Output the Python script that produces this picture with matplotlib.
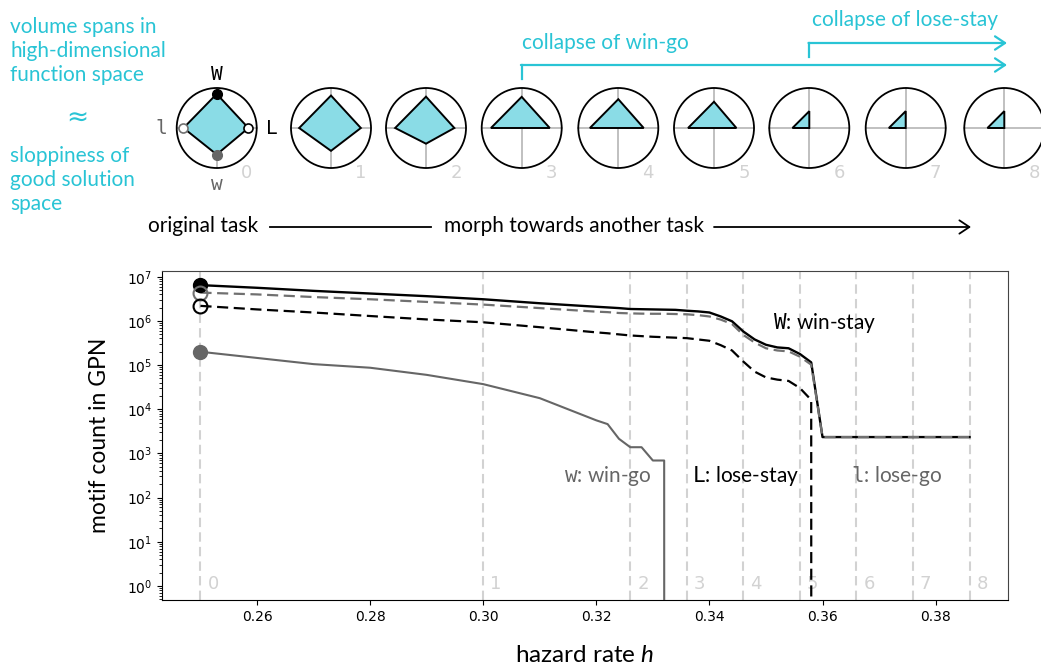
import numpy as np
import matplotlib
matplotlib.use('Agg')
import matplotlib.pyplot as plt
from matplotlib.patches import Circle, Polygon

# ---------------- data ----------------
h = [0.25, 0.26, 0.27, 0.28, 0.29, 0.30, 0.31, 0.32,
     0.322, 0.324, 0.326, 0.328, 0.330, 0.332, 0.334, 0.336, 0.338, 0.340,
     0.342, 0.344, 0.346, 0.348, 0.350, 0.352, 0.354, 0.356, 0.358, 0.360,
     0.362, 0.364, 0.366, 0.368, 0.370, 0.372, 0.374, 0.376, 0.378, 0.380,
     0.382, 0.384, 0.386]

# W: win-stay
win_stay = [6.46e6, 5.62e6, 4.79e6, 4.17e6, 3.63e6, 3.09e6, 2.51e6, 2.09e6,
            2.02e6, 1.95e6, 1.86e6, 1.84e6, 1.82e6, 1.80e6, 1.78e6, 1.70e6, 1.64e6, 1.55e6,
            1.26e6, 9.8e5, 5.75e5, 3.8e5, 2.88e5, 2.51e5, 2.4e5, 1.78e5, 1.15e5, 2.34e3,
            2.34e3, 2.34e3, 2.34e3, 2.34e3, 2.34e3, 2.34e3, 2.34e3, 2.34e3, 2.34e3, 2.34e3,
            2.34e3, 2.34e3, 2.34e3]
# l: lose-go
lose_go = [4.37e6, 3.98e6, 3.47e6, 3.09e6, 2.69e6, 2.34e6, 1.95e6, 1.62e6,
           1.58e6, 1.51e6, 1.48e6, 1.46e6, 1.45e6, 1.45e6, 1.43e6, 1.41e6, 1.35e6, 1.26e6,
           1.07e6, 8.5e5, 4.8e5, 3.24e5, 2.4e5, 2.14e5, 2.04e5, 1.55e5, 1.02e5, 2.34e3,
           2.34e3, 2.34e3, 2.34e3, 2.34e3, 2.34e3, 2.34e3, 2.34e3, 2.34e3, 2.34e3, 2.34e3,
           2.34e3, 2.34e3, 2.34e3]
# L: lose-stay
lose_stay = [2.19e6, 1.82e6, 1.55e6, 1.29e6, 1.08e6, 9.3e5, 7.2e5, 5.5e5,
             5.25e5, 4.95e5, 4.68e5, 4.52e5, 4.37e5, 4.27e5, 4.17e5, 4.07e5, 3.8e5, 3.55e5,
             2.82e5, 2.14e5, 1.2e5, 7.1e4, 5.25e4, 4.68e4, 4.37e4, 3.02e4, 1.62e4, 0,
             0, 0, 0, 0, 0, 0, 0, 0, 0, 0,
             0, 0, 0]
# w: win-go
win_go = [2.0e5, 1.45e5, 1.05e5, 8.7e4, 6.0e4, 3.7e4, 1.78e4, 5.6e3,
          4.6e3, 2.14e3, 1.38e3, 1.38e3, 6.9e2, 6.9e2, 0, 0, 0, 0,
          0, 0, 0, 0, 0, 0, 0, 0, 0, 0,
          0, 0, 0, 0, 0, 0, 0, 0, 0, 0,
          0, 0, 0]

stage_h = [0.25, 0.30, 0.326, 0.336, 0.346, 0.356, 0.366, 0.376, 0.386]
stage_labels = ['0', '1', '2', '3', '4', '5', '6', '7', '8']
x_ticks = [0.26, 0.28, 0.30, 0.32, 0.34, 0.36, 0.38]

# ---------------- style ----------------
CYAN = '#29c4d5'
FILL = '#8adce6'
GREY = '#666666'
LIGHT = '#d2d2d2'
SANS = ['Lato', 'DejaVu Sans']
plt.rcParams['mathtext.fontset'] = 'custom'
plt.rcParams['mathtext.it'] = 'Lato:italic'
plt.rcParams['mathtext.rm'] = 'Lato'
plt.rcParams['mathtext.tt'] = 'DejaVu Sans Mono'

W_PX, H_PX = 1041, 671
fig = plt.figure(figsize=(W_PX / 100, H_PX / 100), dpi=100)

# ---------------- main axes ----------------
ax = fig.add_axes([162 / W_PX, 1 - 600 / H_PX, (1008 - 162) / W_PX, (600 - 271) / H_PX])
ax.set_yscale('log', nonpositive='clip')

for sh, lab in zip(stage_h, stage_labels):
    ax.axvline(sh, color=LIGHT, lw=1.5, ls=(0, (4.5, 2.5)), zorder=1)
    ax.annotate(lab, xy=(sh, 0.05), xycoords=('data', 'axes fraction'),
                xytext=(5, 0), textcoords='offset points', ha='left', va='center',
                color=LIGHT, fontsize=13)

ax.plot(h, win_go, color=GREY, lw=1.5, zorder=3)
ax.plot(h, lose_stay, color='black', lw=1.6, ls=(0, (5, 2.5)), zorder=4)
ax.plot(h, win_stay, color='black', lw=1.7, zorder=5)
ax.plot(h, lose_go, color='#707070', lw=1.6, ls=(0, (5, 2.5)), zorder=6)

ms = 10
ax.plot(h[0], win_stay[0], 'o', color='black', ms=ms, zorder=7)
ax.plot(h[0], lose_go[0], 'o', mfc='none', mec='#707070', mew=1.5, ms=ms, zorder=7)
ax.plot(h[0], lose_stay[0], 'o', mfc='none', mec='black', mew=1.5, ms=ms, zorder=7)
ax.plot(h[0], win_go[0], 'o', color=GREY, ms=ms, zorder=7)

ax.set_ylim(10 ** -0.32, 10 ** 7.13)
ax.set_xticks(x_ticks)
ax.set_xticklabels([f'{t:.2f}' for t in x_ticks])
ax.tick_params(labelsize=10)
for s in ['top', 'right']:
    ax.spines[s].set_color('#444444')

ax.set_ylabel('motif count in GPN', fontsize=16.5, family=SANS, labelpad=12)
ax.set_xlabel('hazard rate $h$', fontsize=17.5, family=SANS, labelpad=15)

lab_fs = 15
ax.text(0.3512, 10 ** 5.95, r'$\mathtt{W}$: win-stay', fontsize=lab_fs, family=SANS,
        color='black', va='center', ha='left')
ax.text(0.3142, 10 ** 2.49, r'$\mathtt{w}$: win-go', fontsize=lab_fs, family=SANS,
        color=GREY, va='center', ha='left')
ax.text(0.3370, 10 ** 2.49, r'$\mathtt{L}$: lose-stay', fontsize=lab_fs, family=SANS,
        color='black', va='center', ha='left')
ax.text(0.3650, 10 ** 2.49, r'$\mathtt{l}$: lose-go', fontsize=lab_fs, family=SANS,
        color=GREY, va='center', ha='left')

# ---------------- overlay (pixel coordinates) ----------------
ov = fig.add_axes([0, 0, 1, 1], zorder=10)
ov.set_xlim(0, W_PX)
ov.set_ylim(H_PX, 0)
ov.set_xticks([])
ov.set_yticks([])
ov.axis('off')
ov.patch.set_alpha(0)

centers_x = [216.7, 331, 426, 521.7, 618.3, 714, 809.3, 905.7, 1004.3]
cy = 128
R = 40
scale = R / 8.0  # radius per decade


def rad(v):
    return np.log10(v) * scale if v > 0 else 0.0


for i, (cx, sh) in enumerate(zip(centers_x, stage_h)):
    k = int(np.argmin(np.abs(np.array(h) - sh)))
    rW, rL, rw, rl = rad(win_stay[k]), rad(lose_stay[k]), rad(win_go[k]), rad(lose_go[k])
    ov.plot([cx - R, cx + R], [cy, cy], color='#bbbbbb', lw=1.3, zorder=1)
    ov.plot([cx, cx], [cy - R, cy + R], color='#bbbbbb', lw=1.3, zorder=1)
    ov.add_patch(Circle((cx, cy), R, fill=False, ec='black', lw=1.3, zorder=3))
    poly = [(cx, cy - rW), (cx + rL, cy), (cx, cy + rw), (cx - rl, cy)]
    ov.add_patch(Polygon(poly, closed=True, fc=FILL, ec='none', zorder=2))
    ov.add_patch(Polygon(poly, closed=True, fill=False, ec='black', lw=1.4, zorder=4))
    ov.text(cx + 30, cy + 45, stage_labels[i], color=LIGHT, fontsize=13,
            ha='center', va='center')
    if i == 0:
        ov.plot(cx, cy - rW, 'o', color='black', ms=7, zorder=5)
        ov.plot(cx, cy + rw, 'o', color=GREY, ms=7, zorder=5)
        ov.plot(cx + rL, cy, 'o', mfc='white', mec='black', mew=1.2, ms=6.5, zorder=5)
        ov.plot(cx - rl, cy, 'o', mfc='white', mec='#707070', mew=1.2, ms=6.5, zorder=5)
        ov.text(cx, cy - 54, 'W', family='DejaVu Sans Mono', fontsize=14, ha='center', va='center')
        ov.text(cx + 55, cy, 'L', family='DejaVu Sans Mono', fontsize=14, ha='center', va='center')
        ov.text(cx, cy + 56, 'w', family='DejaVu Sans Mono', fontsize=14, ha='center', va='center', color=GREY)
        ov.text(cx - 55, cy, 'l', family='DejaVu Sans Mono', fontsize=14, ha='center', va='center', color=GREY)

# cyan annotations
ov.text(10, 51, 'volume spans in\nhigh-dimensional\nfunction space', color=CYAN,
        fontsize=15, family=SANS, ha='left', va='center', linespacing=1.25)
ov.text(77, 118, '\u2248', color=CYAN, fontsize=19, family='DejaVu Sans', ha='center', va='center')
ov.text(10, 180, 'sloppiness of\ngood solution\nspace', color=CYAN,
        fontsize=15, family=SANS, ha='left', va='center', linespacing=1.25)

ov.text(522, 43, 'collapse of win-go', color=CYAN, fontsize=15, family=SANS,
        ha='left', va='center')
ov.plot([521.7, 521.7], [79, 65], color=CYAN, lw=1.6)
ov.annotate('', xy=(1007, 65), xytext=(520.9, 65),
            arrowprops=dict(arrowstyle='->,head_length=0.45,head_width=0.3',
                            color=CYAN, lw=1.6, mutation_scale=16, shrinkA=0, shrinkB=0))
ov.text(812, 20, 'collapse of lose-stay', color=CYAN, fontsize=15, family=SANS,
        ha='left', va='center')
ov.plot([809.3, 809.3], [57, 43], color=CYAN, lw=1.6)
ov.annotate('', xy=(1007, 43), xytext=(808.5, 43),
            arrowprops=dict(arrowstyle='->,head_length=0.45,head_width=0.3',
                            color=CYAN, lw=1.6, mutation_scale=16, shrinkA=0, shrinkB=0))

# morph arrow
ov.text(203, 226, 'original task', fontsize=15, family=SANS, ha='center', va='center')
ov.plot([270, 431], [227, 227], color='black', lw=1.3)
ov.text(574.5, 226, 'morph towards another task', fontsize=15, family=SANS,
        ha='center', va='center')
ov.annotate('', xy=(971, 227), xytext=(714, 227),
            arrowprops=dict(arrowstyle='->,head_length=0.45,head_width=0.3',
                            color='black', lw=1.3, mutation_scale=16, shrinkA=0, shrinkB=0))

fig.savefig('out.png', dpi=100)
